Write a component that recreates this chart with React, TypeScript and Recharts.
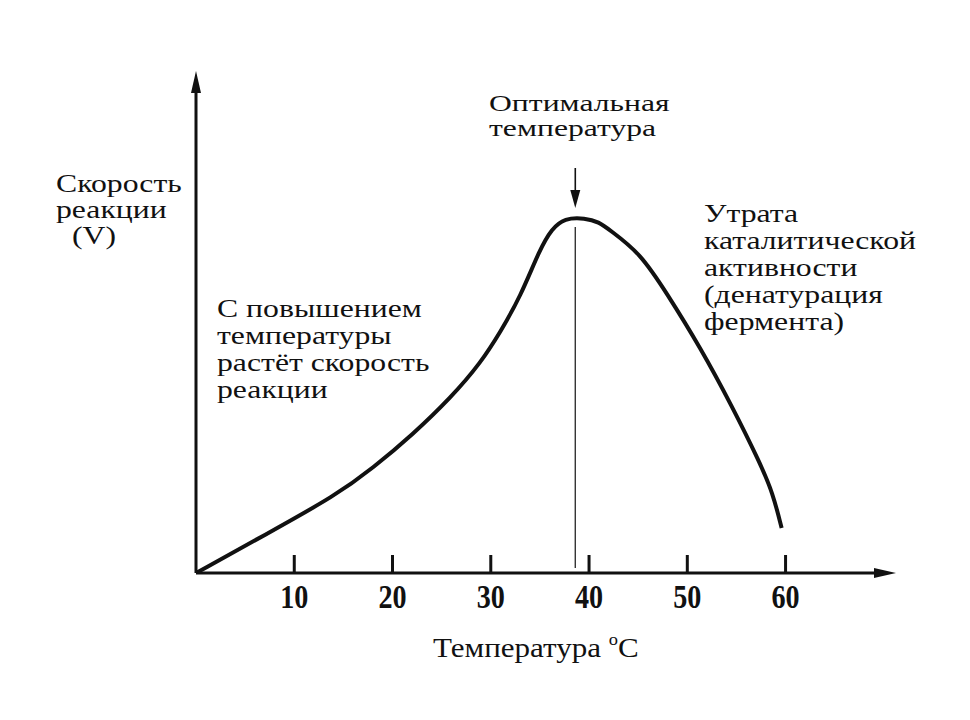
import React from 'react';
import { Line, LineChart, ReferenceLine, XAxis, YAxis } from 'recharts';

// temperature (°C) and reaction rate (relative units)
const temps = [0, 7, 14.3, 18, 22, 26, 29, 31, 33, 35, 36.2, 37.5, 39.6, 41, 42.1, 45.2, 47.9, 51.3, 54.6, 57.4, 58.7, 59.6];
const rates = [0, 7.6, 15.6, 21.0, 27.6, 35.2, 42.1, 48.3, 55.2, 64.8, 68.8, 71, 71, 70.2, 68.6, 64, 56, 45.2, 33.2, 22, 16, 9];
const tickValues = [10, 20, 30, 40, 50, 60];

const optimumT = 38.6;
const optimumLine = [1, 69.2];
const optimumArrow = [81, 73];

const yTitle = ['Скорость', 'реакции'];
const yUnit = '(V)';
const optimumText = ['Оптимальная', 'температура'];
const riseText = ['С повышением', 'температуры', 'растёт скорость', 'реакции'];
const lossText = ['Утрата', 'каталитической', 'активности', '(денатурация', 'фермента)'];
const xTitle = 'Температура ';

const data = temps.map((t, i) => ({ t, v: rates[i] }));

const INK = '#111';
const SERIF = '"Liberation Serif", "Times New Roman", serif';
const W = 970;
const H = 720;

function TempTick(props: any) {
  const { x, y, payload } = props;
  return (
    <g>
      <line x1={x} y1={y} x2={x} y2={y - 18} stroke={INK} strokeWidth={3} />
      <text
        transform={`translate(${x},${y + 35}) scale(0.88,1.05)`}
        textAnchor="middle"
        fontFamily={SERIF}
        fontWeight="bold"
        fontSize={32}
        fill={INK}
      >
        {payload.value}
      </text>
    </g>
  );
}

function DownArrow(props: any) {
  const { x1, y1, y2 } = props;
  return (
    <g>
      <line x1={x1} y1={y1} x2={x1} y2={y2 - 14} stroke={INK} strokeWidth={1.6} />
      <polygon points={`${x1 - 5},${y2 - 18} ${x1 + 5},${y2 - 18} ${x1},${y2}`} fill={INK} />
    </g>
  );
}

function Block({ x, y, lines, step = 27, size = 26, sx = 1.22 }: { x: number; y: number; lines: string[]; step?: number; size?: number; sx?: number }) {
  return (
    <g>
      {lines.map((s, i) => (
        <text
          key={i}
          transform={`translate(${x},${y + i * step}) scale(${sx},1)`}
          fontFamily={SERIF}
          fontSize={size}
          fill={INK}
        >
          {s}
        </text>
      ))}
    </g>
  );
}

export default function App() {
  return (
    <div style={{ position: 'absolute', left: 0, top: 0, width: W, height: H, background: '#fff' }}>
      <LineChart
        width={W}
        height={H}
        data={data}
        margin={{ top: 93, right: 96, left: 156, bottom: 107 }}
      >
        <defs>
          <marker id="arrowRight" markerUnits="userSpaceOnUse" markerWidth={22} markerHeight={10} refX={0} refY={5} orient="0">
            <path d="M0,0 L22,5 L0,10 z" fill={INK} />
          </marker>
          <marker id="arrowUp" markerUnits="userSpaceOnUse" markerWidth={10} markerHeight={22} refX={5} refY={22} orient="0">
            <path d="M0,22 L5,0 L10,22 z" fill={INK} />
          </marker>
        </defs>
        <XAxis
          dataKey="t"
          type="number"
          domain={[0, 69]}
          ticks={tickValues}
          allowDataOverflow
          height={40}
          tickSize={0}
          tickMargin={0}
          tickLine={false}
          tick={<TempTick />}
          axisLine={{ stroke: INK, strokeWidth: 3, markerEnd: 'url(#arrowRight)' }}
        />
        <YAxis
          type="number"
          domain={[0, 96]}
          allowDataOverflow
          width={40}
          tick={false}
          tickLine={false}
          axisLine={{ stroke: INK, strokeWidth: 3, markerStart: 'url(#arrowUp)' }}
        />
        <ReferenceLine
          segment={[{ x: optimumT, y: optimumLine[0] }, { x: optimumT, y: optimumLine[1] }]}
          stroke="#333"
          strokeWidth={1.4}
          ifOverflow="visible"
        />
        <ReferenceLine
          segment={[{ x: optimumT, y: optimumArrow[0] }, { x: optimumT, y: optimumArrow[1] }]}
          ifOverflow="visible"
          shape={(p: any) => <DownArrow {...p} />}
        />
        <Line
          type="basis"
          dataKey="v"
          stroke={INK}
          strokeWidth={4}
          dot={false}
          activeDot={false}
          isAnimationActive={false}
        />
      </LineChart>
      <svg width={W} height={H} style={{ position: 'absolute', left: 0, top: 0, pointerEvents: 'none' }}>
        <Block x={56} y={192} lines={yTitle} step={26} />
        <Block x={72} y={244} lines={[yUnit]} />
        <Block x={489} y={111} lines={optimumText} step={25} size={24} sx={1.32} />
        <Block x={217} y={317} lines={riseText} />
        <Block x={704} y={222} lines={lossText} />
        <text transform="translate(433,657) scale(1.15,1)" fontFamily={SERIF} fontSize={27} fill={INK}>
          {xTitle}
          <tspan fontSize={16} dy={-12}>o</tspan>
          <tspan dy={12}>C</tspan>
        </text>
      </svg>
    </div>
  );
}
